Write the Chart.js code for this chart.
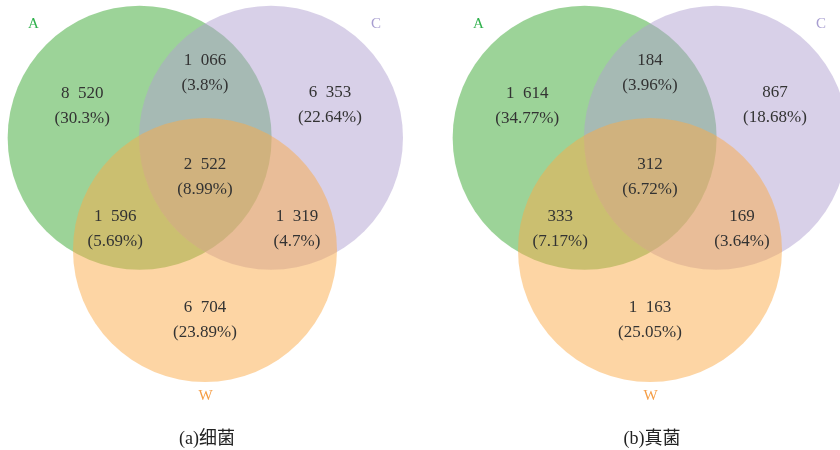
<!DOCTYPE html>
<html>
<head>
<meta charset="utf-8">
<script src="https://cdn.jsdelivr.net/npm/chart.js"></script>
<style>
  html, body { margin: 0; padding: 0; background: #fff; overflow: hidden; }
  #wrap { position: relative; width: 840px; height: 450px; overflow: hidden; }
  canvas { position: absolute; top: 0; }
</style>
</head>
<body>
<div id="wrap">
  <canvas id="venn-bact" width="420" height="450" style="left:0"></canvas>
  <canvas id="venn-fungi" width="420" height="450" style="left:445px"></canvas>
</div>
<script>
// --- dados ---
const setNames = ['A', 'C', 'W'];
const regionKeys = ['A', 'AC', 'C', 'ACW', 'AW', 'CW', 'W'];
const bacteriaCounts = [8520, 1066, 6353, 2522, 1596, 1319, 6704];
const bacteriaPercents = [30.3, 3.8, 22.64, 8.99, 5.69, 4.7, 23.89];
const fungiCounts = [1614, 184, 867, 312, 333, 169, 1163];
const fungiPercents = [34.77, 3.96, 18.68, 6.72, 7.17, 3.64, 25.05];
const panelTitles = ['(a)细菌', '(b)真菌'];

// --- layout do diagrama (unidades do raio) ---
const VENN_R = 1;
const circleCenters = { A: [-0.495, 0.85], C: [0.5, 0.85], W: [0, 0] };
const regionAnchors = {
    A: [-0.93, 1.09], AC: [0, 1.34], C: [0.947, 1.10], ACW: [0, 0.55],
    AW: [-0.68, 0.16], CW: [0.697, 0.16], W: [0, -0.53]
};
const setLabelAnchors = { A: [-1.30, 1.71], C: [1.295, 1.71], W: [0.005, -1.105] };
const captionAnchor = [0.015, -1.43];

const setFill = {
    A: 'rgba(57, 167, 49, 0.5)',
    C: 'rgba(177, 161, 209, 0.5)',
    W: 'rgba(252, 172, 74, 0.5)'
};
const setLabelColor = { A: '#2fb14c', C: '#a79dd0', W: '#f59d45' };
const drawOrder = { A: 3, C: 2, W: 1 }; // W por cima

function formatCount(n) {
    return String(n).replace(/\B(?=(\d{3})+(?!\d))/g, '\u2002');
}

// Plugin que escreve os textos usando as escalas do próprio gráfico
const vennTextPlugin = {
    id: 'vennText',
    afterDatasetsDraw(chart, args, opts) {
        const ctx = chart.ctx;
        const sx = chart.scales.x, sy = chart.scales.y;
        ctx.save();
        ctx.textAlign = 'center';
        ctx.textBaseline = 'middle';

        ctx.fillStyle = '#333';
        ctx.font = '17px "Liberation Serif", serif';
        regionKeys.forEach((key, i) => {
            const [u, v] = regionAnchors[key];
            const px = sx.getPixelForValue(u);
            const py = sy.getPixelForValue(v);
            ctx.fillText(formatCount(opts.counts[i]), px, py - 12.5);
            ctx.fillText('(' + opts.percents[i] + '%)', px, py + 12.5);
        });

        ctx.font = '15px "Liberation Serif", serif';
        setNames.forEach(name => {
            const [u, v] = setLabelAnchors[name];
            ctx.fillStyle = setLabelColor[name];
            ctx.fillText(name, sx.getPixelForValue(u), sy.getPixelForValue(v));
        });

        ctx.fillStyle = '#222';
        ctx.font = '18px "Liberation Serif", "Noto Sans CJK SC", serif';
        ctx.fillText(opts.title, sx.getPixelForValue(captionAnchor[0]), sy.getPixelForValue(captionAnchor[1]));
        ctx.restore();
    }
};

function radiusPx(ctx) {
    const s = ctx.chart.scales.x;
    return s.getPixelForValue(VENN_R) - s.getPixelForValue(0);
}

function buildVenn(canvasId, counts, percents, title) {
    const datasets = setNames.map(name => ({
        label: name,
        data: [{ x: circleCenters[name][0], y: circleCenters[name][1] }],
        backgroundColor: setFill[name],
        borderWidth: 0,
        pointRadius: radiusPx,
        pointHoverRadius: radiusPx,
        order: drawOrder[name],
        clip: false
    }));

    return new Chart(document.getElementById(canvasId), {
        type: 'scatter',
        data: { datasets },
        options: {
            responsive: false,
            animation: false,
            events: [],
            layout: { padding: 0 },
            scales: {
                x: { type: 'linear', display: false, min: -1.553, max: 1.629 },
                y: { type: 'linear', display: false, min: -1.515, max: 1.894 }
            },
            plugins: {
                legend: { display: false },
                tooltip: { enabled: false },
                vennText: { counts, percents, title }
            }
        },
        plugins: [vennTextPlugin]
    });
}

buildVenn('venn-bact', bacteriaCounts, bacteriaPercents, panelTitles[0]);
buildVenn('venn-fungi', fungiCounts, fungiPercents, panelTitles[1]);
</script>
</body>
</html>
